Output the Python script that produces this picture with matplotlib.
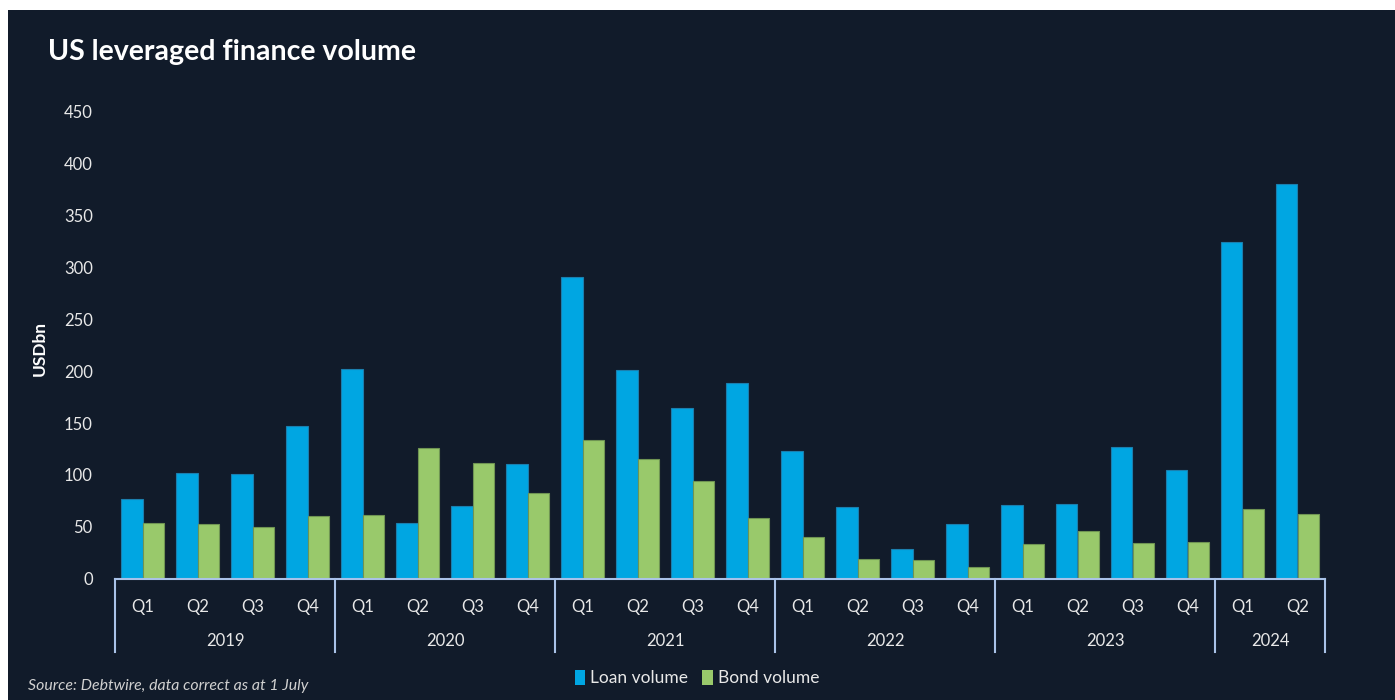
import matplotlib
matplotlib.use("Agg")
import matplotlib.pyplot as plt
from matplotlib.patches import Rectangle, Patch
import matplotlib.transforms as mtransforms
import numpy as np

years = ["2019", "2020", "2021", "2022", "2023", "2024"]
quarters_per_year = [4, 4, 4, 4, 4, 2]
quarter_labels = ["Q1", "Q2", "Q3", "Q4"] * 5 + ["Q1", "Q2"]
loan_volume = [77, 102, 101, 147, 202, 54, 70, 110, 291, 201, 164, 189,
               123, 69, 28, 53, 71, 72, 127, 105, 325, 381]
bond_volume = [54, 53, 50, 60, 61, 126, 111, 82, 134, 115, 94, 58,
               40, 19, 18, 11, 33, 46, 34, 35, 67, 62]
y_ticks = [0, 50, 100, 150, 200, 250, 300, 350, 400, 450]

BG = "#111b2a"
BLUE = "#00a6e2"
GREEN = "#99c96b"
AXIS = "#a9c2e8"
TXT = "#e8e8e8"

W, H = 1395, 700
fig = plt.figure(figsize=(W / 100, H / 100), dpi=100, facecolor="white")
fig.patches.append(Rectangle((8 / W, 0), 1 - 8 / W, 1 - 10 / H, transform=fig.transFigure,
                             facecolor=BG, edgecolor="none", zorder=-10))

font = "Lato"
left, right = 115 / W, 1325 / W
bottom, top = (H - 578.5) / H, (H - 112) / H
ax = fig.add_axes([left, bottom, right - left, top - bottom])
ax.set_facecolor("none")

n = len(loan_volume)
x = np.arange(n)
bw = 0.395
ax.bar(x - bw / 2, loan_volume, width=bw, color=BLUE, edgecolor="#1b7fae", linewidth=0.8, zorder=3)
ax.bar(x + bw / 2, bond_volume, width=bw, color=GREEN, edgecolor="#6f9453", linewidth=0.8, zorder=3)

ax.set_xlim(-0.5, n - 0.5)
ax.set_ylim(0, 450)
for s in ["top", "right", "left"]:
    ax.spines[s].set_visible(False)
ax.spines["bottom"].set_color(AXIS)
ax.spines["bottom"].set_linewidth(1.5)
ax.spines["bottom"].set_zorder(4)

ax.set_yticks(y_ticks)
ax.set_yticklabels([str(v) for v in y_ticks], fontfamily=font, fontsize=12, color=TXT)
ax.tick_params(axis="y", length=0, pad=16)

ax.set_xticks(x)
ax.set_xticklabels(quarter_labels, fontfamily=font, fontsize=12, color=TXT)
ax.tick_params(axis="x", length=0, pad=15)

trans = mtransforms.blended_transform_factory(ax.transData, ax.transAxes)
sep_bottom = -(652 - 578.5) / 466.5
bounds = np.concatenate([[0], np.cumsum(quarters_per_year)]) - 0.5
for b in bounds:
    ax.plot([b, b], [0, sep_bottom], transform=trans, color=AXIS, lw=1.5, clip_on=False, zorder=4)
year_y = -(641 - 578.5) / 466.5
for i, yr in enumerate(years):
    cx = (bounds[i] + bounds[i + 1]) / 2
    ax.text(cx, year_y, yr, transform=trans, ha="center", va="center",
            fontfamily=font, fontsize=12, color=TXT)

fig.text(40 / W, 1 - 348 / H, "USDbn", fontfamily=font, fontsize=12.5, fontweight="bold",
         color="white", rotation=90, ha="center", va="center")

fig.text(48 / W, 1 - 52 / H, "US leveraged finance volume", fontfamily=font, fontsize=20.5,
         fontweight="bold", color="white", va="center", ha="left")

fig.text(28 / W, 1 - 686 / H, "Source: Debtwire, data correct as at 1 July", fontfamily=font,
         fontsize=11.4, style="italic", color="#d0d0d0", va="center", ha="left")

handles = [Patch(facecolor=BLUE, edgecolor="none", label="Loan volume"),
           Patch(facecolor=GREEN, edgecolor="none", label="Bond volume")]
leg = fig.legend(handles=handles, loc="center", bbox_to_anchor=(697 / W, 1 - 678 / H), ncol=2,
                 frameon=False, handlelength=0.6, handleheight=1.0, handletextpad=0.3,
                 columnspacing=0.8, prop={"family": font, "size": 12.5})
for t in leg.get_texts():
    t.set_color(TXT)

fig.savefig("out.png", dpi=100, facecolor=fig.get_facecolor())
